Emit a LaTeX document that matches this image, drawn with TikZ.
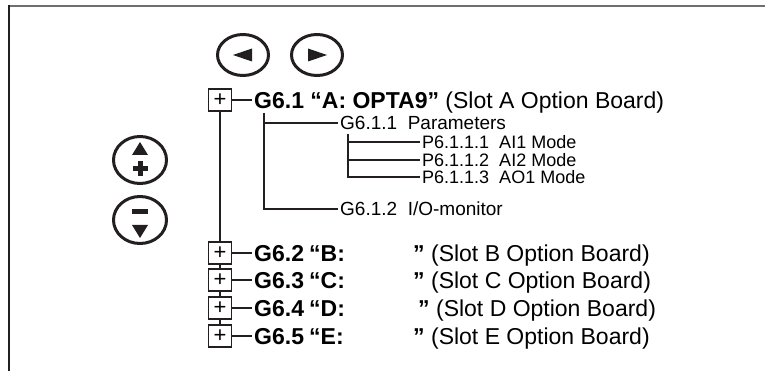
\documentclass[tikz,border=0pt]{standalone}
\usepackage{fontspec}
\setmainfont{Liberation Sans}
\usepackage{xcolor}
\usepackage{tikz}
\usetikzlibrary{shapes.geometric,positioning,calc}
\definecolor{framegray}{HTML}{6E6E6E}
\definecolor{treeline}{HTML}{231F20}

\begin{document}
\begin{tikzpicture}[x=1pt, y=-1pt,
        keybtn/.style={draw=treeline, line width=3pt, ellipse, minimum width=51pt, minimum height=41pt, inner sep=0pt},
        plusbox/.style={draw=treeline, line width=1.3pt, minimum width=23pt, minimum height=22pt, inner sep=0pt, font=\fontsize{22}{22}\selectfont},
        maintext/.style={anchor=west, inner xsep=2pt, inner ysep=0pt, text height=16.5pt, text depth=0pt, font=\fontsize{23}{27}\selectfont},
        subtext/.style={anchor=west, inner xsep=2pt, inner ysep=0pt, text height=13.6pt, text depth=0pt, font=\fontsize{19}{22}\selectfont},
        paramtext/.style={subtext, text height=12.9pt, font=\fontsize{18}{19}\selectfont},
        branch/.style={draw=treeline, line width=1.3pt}
    ]
    \useasboundingbox (0,0) rectangle (765,371);

    % === Frame ===
    \draw[framegray, line width=2.5pt] (8,6) -- (765,6);
    \draw[treeline, line width=2.5pt] (9,4.75) -- (9,371);

    % === Keypad buttons ===
    \node[keybtn] (leftbtn) at (243,55) {};
    \node[keybtn] (rightbtn) at (317,55) {};
    \node[keybtn, minimum width=53pt, minimum height=47pt] (upbtn) at (140,160) {};
    \node[keybtn, minimum width=53pt, minimum height=47pt] (downbtn) at (140,220) {};
    \fill[treeline] (leftbtn.center) ++(-10,0) -- ++(19,-6.5) -- ++(0,13) -- cycle;
    \fill[treeline] (rightbtn.center) ++(10,0) -- ++(-19,-6.5) -- ++(0,13) -- cycle;
    % up / plus
    \fill[treeline] (upbtn.center) ++(0,-18) -- ++(8,13) -- ++(-16,0) -- cycle;
    \fill[treeline] (upbtn.center) ++(-7.5,6) rectangle ++(15,5);
    \fill[treeline] (upbtn.center) ++(-2.5,1) rectangle ++(5,15);
    % down / minus
    \fill[treeline] (downbtn.center) ++(-8,-11) rectangle ++(16,5);
    \fill[treeline] (downbtn.center) ++(0,18) -- ++(8,-13) -- ++(-16,0) -- cycle;

    % === Slot A group ===
    \node[plusbox] (b1) at (220,100) {+};
    \node[maintext] (g61) at (252,100) {\textbf{G6.1 “A: OPTA9”} (Slot A Option Board)};
    \draw[branch] (b1) -- (g61);

    \coordinate (lvl2) at (264,113);
    \node[subtext] (g611) at (338,123) {G6.1.1\ \ Parameters};
    \node[subtext] (g612) at (338,209) {G6.1.2\ \ I/O-monitor};
    \draw[branch] (lvl2) |- (g612.west);
    \draw[branch] (lvl2 |- g611.west) -- (g611.west);

    \coordinate (lvl3) at (348,134);
    \node[paramtext] (p1) at (420,142) {P6.1.1.1\ \ AI1 Mode};
    \node[paramtext] (p2) at (420,160) {P6.1.1.2\ \ AI2 Mode};
    \node[paramtext] (p3) at (420,177) {P6.1.1.3\ \ AO1 Mode};
    \draw[branch] (lvl3) |- (p3.west);
    \foreach \p in {p1,p2} { \draw[branch] (lvl3 |- \p.west) -- (\p.west); }

    % === Slots B to E ===
    \foreach \n/\s/\y/\q in {2/B/253/104, 3/C/280/104, 4/D/308/109, 5/E/336/104} {
        \node[plusbox] (b\n) at (220,\y) {+};
        \node[maintext] (g6\n) at (252,\y) {\makebox[55pt][l]{\bfseries G6.\n}\makebox[\q pt][l]{\bfseries “\s:}\textbf{”} (Slot \s\ Option Board)};
        \draw[branch] (b\n) -- (g6\n);
    }
    \foreach \a/\b in {b1/b2, b2/b3, b3/b4, b4/b5} { \draw[branch] (\a) -- (\b); }

\end{tikzpicture}
\end{document}
